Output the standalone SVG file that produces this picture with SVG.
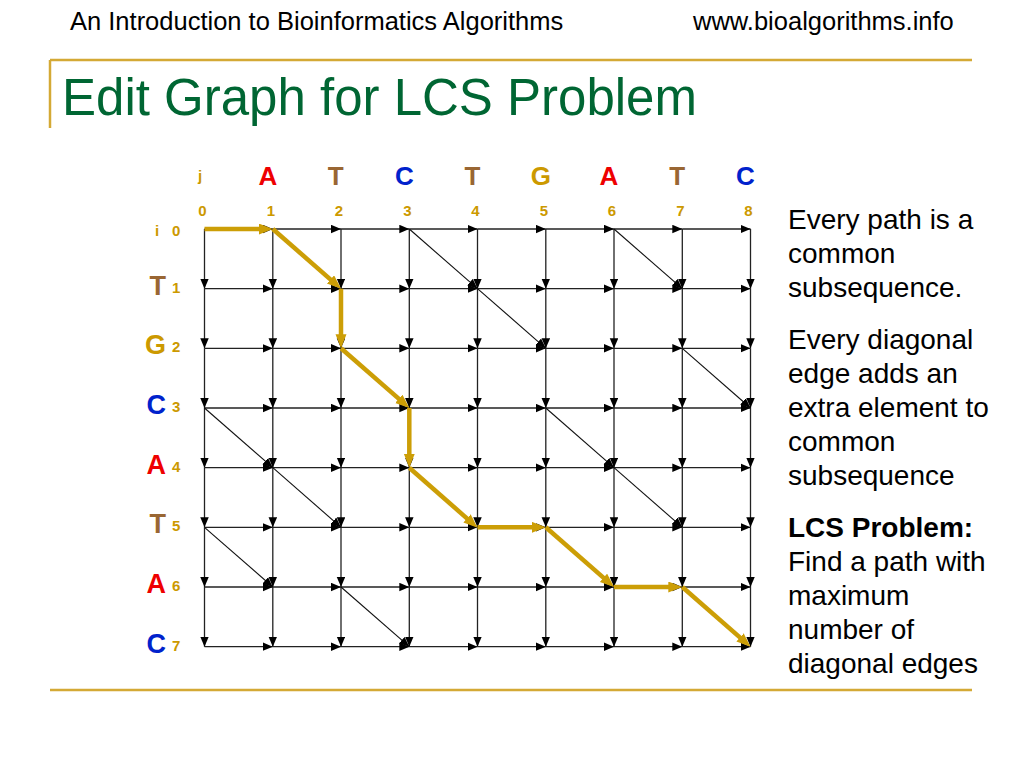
<svg xmlns="http://www.w3.org/2000/svg" width="1024" height="768" viewBox="0 0 1024 768">
<style>
text{font-family:"Liberation Sans",Arial,sans-serif}
.hdr{font-size:25.5px;fill:#000}
.title{font-size:51px;fill:#006633}
.rule{stroke:#D4A935;stroke-width:2.5;fill:none}
.edge{stroke:#222;stroke-width:1.3;marker-end:url(#ah)}
.diag{stroke:#111;stroke-width:1.1;marker-end:url(#ah)}
.path{stroke:#CC9E06;stroke-width:4.5;marker-end:url(#gh);fill:none}
.big{font-size:26px;font-weight:bold;text-anchor:middle}
.rl{font-size:27px;font-weight:bold;text-anchor:end}
.num{font-size:15px;font-weight:bold;fill:#CC9900;text-anchor:middle}
.rn{font-size:15px;font-weight:bold;fill:#CC9900}
.cA{fill:#EE0000}.cT{fill:#996633}.cC{fill:#0022CC}.cG{fill:#CC9900}
.side{font-size:28px;fill:#000}
</style>
<defs>
<marker id="ah" markerUnits="userSpaceOnUse" markerWidth="11" markerHeight="9" refX="10" refY="4.25" orient="auto">
<path d="M0,0 L10,4.25 L0,8.5 z" fill="#000"/>
</marker>
<marker id="gh" markerUnits="userSpaceOnUse" markerWidth="15" markerHeight="12" refX="4" refY="5.5" orient="auto">
<path d="M0,0 L14,5.5 L0,11 z" fill="#CC9E06"/>
</marker>
<g id="hrow">
<line class="edge" x1="204.5" y1="0" x2="272.8" y2="0"/>
<line class="edge" x1="272.8" y1="0" x2="341" y2="0"/>
<line class="edge" x1="341" y1="0" x2="409.3" y2="0"/>
<line class="edge" x1="409.3" y1="0" x2="477.5" y2="0"/>
<line class="edge" x1="477.5" y1="0" x2="545.8" y2="0"/>
<line class="edge" x1="545.8" y1="0" x2="614" y2="0"/>
<line class="edge" x1="614" y1="0" x2="682.3" y2="0"/>
<line class="edge" x1="682.3" y1="0" x2="750.5" y2="0"/>
</g>
<g id="vcol">
<line class="edge" x1="0" y1="229" x2="0" y2="288.7"/>
<line class="edge" x1="0" y1="288.7" x2="0" y2="348.3"/>
<line class="edge" x1="0" y1="348.3" x2="0" y2="408"/>
<line class="edge" x1="0" y1="408" x2="0" y2="467.7"/>
<line class="edge" x1="0" y1="467.7" x2="0" y2="527.3"/>
<line class="edge" x1="0" y1="527.3" x2="0" y2="587"/>
<line class="edge" x1="0" y1="587" x2="0" y2="646.7"/>
</g>
</defs>
<rect width="1024" height="768" fill="#fff"/>

<g id="header">
<text class="hdr" x="70" y="30">An Introduction to Bioinformatics Algorithms</text>
<text class="hdr" x="693" y="30">www.bioalgorithms.info</text>
<line class="rule" x1="50" y1="60" x2="972" y2="60"/>
<line class="rule" x1="50" y1="60" x2="50" y2="128"/>
<text class="title" x="62" y="115">Edit Graph for LCS Problem</text>
</g>

<g id="connectors">
<g id="horizontal">
<use href="#hrow" y="229"/>
<use href="#hrow" y="288.7"/>
<use href="#hrow" y="348.3"/>
<use href="#hrow" y="408"/>
<use href="#hrow" y="467.7"/>
<use href="#hrow" y="527.3"/>
<use href="#hrow" y="587"/>
<use href="#hrow" y="646.7"/>
</g>
<g id="vertical">
<use href="#vcol" x="204.5"/>
<use href="#vcol" x="272.8"/>
<use href="#vcol" x="341"/>
<use href="#vcol" x="409.3"/>
<use href="#vcol" x="477.5"/>
<use href="#vcol" x="545.8"/>
<use href="#vcol" x="614"/>
<use href="#vcol" x="682.3"/>
<use href="#vcol" x="750.5"/>
</g>
<g id="diagonals">
<line class="diag" x1="409.3" y1="229" x2="477.5" y2="288.7"/>
<line class="diag" x1="614" y1="229" x2="682.3" y2="288.7"/>
<line class="diag" x1="477.5" y1="288.7" x2="545.8" y2="348.3"/>
<line class="diag" x1="682.3" y1="348.3" x2="750.5" y2="408"/>
<line class="diag" x1="204.5" y1="408" x2="272.8" y2="467.7"/>
<line class="diag" x1="545.8" y1="408" x2="614" y2="467.7"/>
<line class="diag" x1="272.8" y1="467.7" x2="341" y2="527.3"/>
<line class="diag" x1="614" y1="467.7" x2="682.3" y2="527.3"/>
<line class="diag" x1="204.5" y1="527.3" x2="272.8" y2="587"/>
<line class="diag" x1="341" y1="587" x2="409.3" y2="646.7"/>
</g>
<g id="lcs-path">
<line class="path" x1="204.5" y1="229" x2="262.8" y2="229"/>
<line class="path" x1="272.8" y1="229" x2="333.5" y2="282.1"/>
<line class="path" x1="341" y1="288.7" x2="341" y2="338.3"/>
<line class="path" x1="341" y1="348.3" x2="401.8" y2="401.4"/>
<line class="path" x1="409.3" y1="408" x2="409.3" y2="457.7"/>
<line class="path" x1="409.3" y1="467.7" x2="470" y2="521.1"/>
<line class="path" x1="477.5" y1="527.3" x2="535.8" y2="527.3"/>
<line class="path" x1="545.8" y1="527.3" x2="606.5" y2="580.4"/>
<line class="path" x1="614" y1="587" x2="672.3" y2="587"/>
<line class="path" x1="682.3" y1="587" x2="743" y2="640.1"/>
</g>
</g>

<g id="col-labels">
<text class="rn" x="200" y="181" text-anchor="middle">j</text>
<text class="big cA" x="267.8" y="185">A</text>
<text class="big cT" x="335.8" y="185">T</text>
<text class="big cC" x="404.3" y="185">C</text>
<text class="big cT" x="472.5" y="185">T</text>
<text class="big cG" x="540.8" y="185">G</text>
<text class="big cA" x="609" y="185">A</text>
<text class="big cT" x="677.3" y="185">T</text>
<text class="big cC" x="745.5" y="185">C</text>
<text class="num" x="202.5" y="216">0</text>
<text class="num" x="270.8" y="216">1</text>
<text class="num" x="339" y="216">2</text>
<text class="num" x="407.3" y="216">3</text>
<text class="num" x="475.5" y="216">4</text>
<text class="num" x="543.8" y="216">5</text>
<text class="num" x="612" y="216">6</text>
<text class="num" x="680.3" y="216">7</text>
<text class="num" x="748.5" y="216">8</text>
</g>

<g id="row-labels">
<text class="rn" x="157" y="236" text-anchor="middle">i</text>
<text class="rn" x="172" y="236">0</text>
<text class="rl cT" x="166" y="294.7">T</text>
<text class="rn" x="172" y="292.7">1</text>
<text class="rl cG" x="166" y="354.3">G</text>
<text class="rn" x="172" y="352.3">2</text>
<text class="rl cC" x="166" y="414">C</text>
<text class="rn" x="172" y="412">3</text>
<text class="rl cA" x="166" y="473.7">A</text>
<text class="rn" x="172" y="471.7">4</text>
<text class="rl cT" x="166" y="533.3">T</text>
<text class="rn" x="172" y="531.3">5</text>
<text class="rl cA" x="166" y="593">A</text>
<text class="rn" x="172" y="591">6</text>
<text class="rl cC" x="166" y="652.7">C</text>
<text class="rn" x="172" y="650.7">7</text>
</g>

<g id="side-text">
<text class="side" x="788" y="229">Every path is a</text>
<text class="side" x="788" y="263">common</text>
<text class="side" x="788" y="297">subsequence.</text>
<text class="side" x="788" y="349">Every diagonal</text>
<text class="side" x="788" y="383">edge adds an</text>
<text class="side" x="788" y="417">extra element to</text>
<text class="side" x="788" y="451">common</text>
<text class="side" x="788" y="485">subsequence</text>
<text class="side" x="788" y="537" font-weight="bold">LCS Problem:</text>
<text class="side" x="788" y="571">Find a path with</text>
<text class="side" x="788" y="605">maximum</text>
<text class="side" x="788" y="639">number of</text>
<text class="side" x="788" y="673">diagonal edges</text>
</g>

<line class="rule" x1="50" y1="690" x2="972" y2="690"/>
</svg>
